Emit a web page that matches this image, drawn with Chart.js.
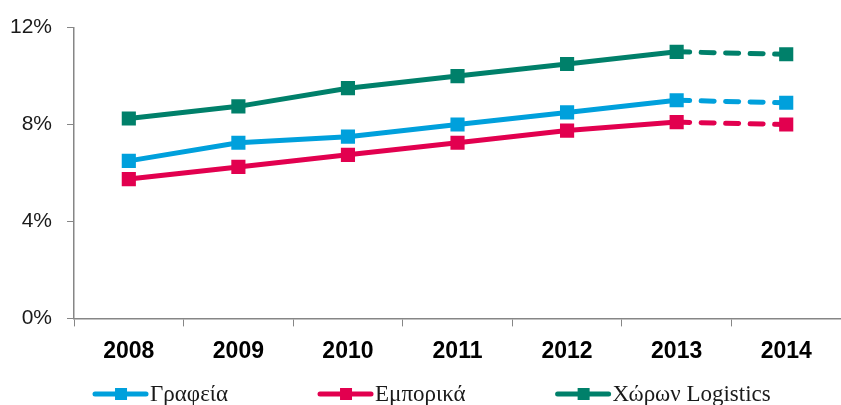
<!DOCTYPE html>
<html>
<head>
<meta charset="utf-8">
<script src="https://cdn.jsdelivr.net/npm/chart.js@4.4.1/dist/chart.umd.min.js"></script>
<style>
  html, body { margin: 0; padding: 0; background: #fff; }
  #wrap { width: 841px; height: 405px; }
</style>
</head>
<body>
<div id="wrap"><canvas id="chart" width="841" height="405"></canvas></div>
<script>
// values (percent)
const years = ["2008", "2009", "2010", "2011", "2012", "2013", "2014"];
const offices = [6.5, 7.25, 7.5, 8.0, 8.5, 9.0, 8.9];
const retail = [5.75, 6.25, 6.75, 7.25, 7.75, 8.1, 8.0];
const logistics = [8.25, 8.75, 9.5, 10.0, 10.5, 11.0, 10.9];
const seriesNames = ["Γραφεία", "Εμπορικά", "Χώρων Logistics"];
const seriesColors = ["#00A0DC", "#E2004F", "#00806A"];
const yTicks = [0, 4, 8, 12];

const axisGray = "#868686";
const forecastFrom = 5; // segment 2013 -> 2014 is dashed

function makeSet(label, data, color) {
  return {
    label: label,
    data: data,
    borderColor: color,
    backgroundColor: color,
    borderWidth: 5,
    borderCapStyle: "round",
    borderJoinStyle: "round",
    pointStyle: "rect",
    pointRadius: 10,
    pointHoverRadius: 10,
    pointBorderWidth: 0,
    tension: 0,
    segment: {
      borderDash: c => c.p0DataIndex >= forecastFrom ? [13, 11.5] : undefined
    }
  };
}

// legend: line + square, drawn under the axis
const lineLegend = {
  id: "lineLegend",
  afterDraw(chart) {
    const ctx = chart.ctx;
    const y = 394;
    let x = chart.chartArea.left + 19;
    ctx.save();
    ctx.font = "23px 'Liberation Serif', serif";
    ctx.textBaseline = "middle";
    chart.data.datasets.forEach(ds => {
      ctx.strokeStyle = ds.borderColor;
      ctx.fillStyle = ds.borderColor;
      ctx.lineWidth = 5;
      ctx.lineCap = "round";
      ctx.beginPath();
      ctx.moveTo(x + 2, y);
      ctx.lineTo(x + 53, y);
      ctx.stroke();
      ctx.fillRect(x + 22, y - 6, 12, 12);
      ctx.fillStyle = "#1a1a1a";
      ctx.fillText(ds.label, x + 57, y + 1);
      x += 55 + 11 + ctx.measureText(ds.label).width + 81;
    });
    ctx.restore();
  }
};

new Chart(document.getElementById("chart"), {
  type: "line",
  data: {
    labels: years,
    datasets: [
      makeSet(seriesNames[0], offices, seriesColors[0]),
      makeSet(seriesNames[1], retail, seriesColors[1]),
      makeSet(seriesNames[2], logistics, seriesColors[2])
    ]
  },
  options: {
    responsive: false,
    animation: false,
    layout: { autoPadding: false, padding: { top: 10, left: -5, right: 0, bottom: 29 } },
    plugins: { legend: { display: false }, tooltip: { enabled: false } },
    scales: {
      x: {
        offset: true,
        grid: { offset: true, drawOnChartArea: false, color: axisGray, tickLength: 8 },
        border: { color: axisGray, width: 1.5 },
        ticks: {
          color: "#000",
          padding: 11,
          font: { family: "'Liberation Sans', Arial, sans-serif", size: 23, weight: "bold" }
        }
      },
      y: {
        min: 0,
        max: 12,
        afterBuildTicks: s => { s.ticks = yTicks.map(v => ({ value: v })); },
        grid: { drawOnChartArea: false, color: axisGray, tickLength: 7 },
        border: { color: axisGray, width: 1.5 },
        ticks: {
          color: "#1a1a1a",
          padding: 15,
          font: { family: "'Liberation Sans', Arial, sans-serif", size: 21 },
          callback: v => v + "%"
        }
      }
    }
  },
  plugins: [lineLegend]
});
</script>
</body>
</html>
